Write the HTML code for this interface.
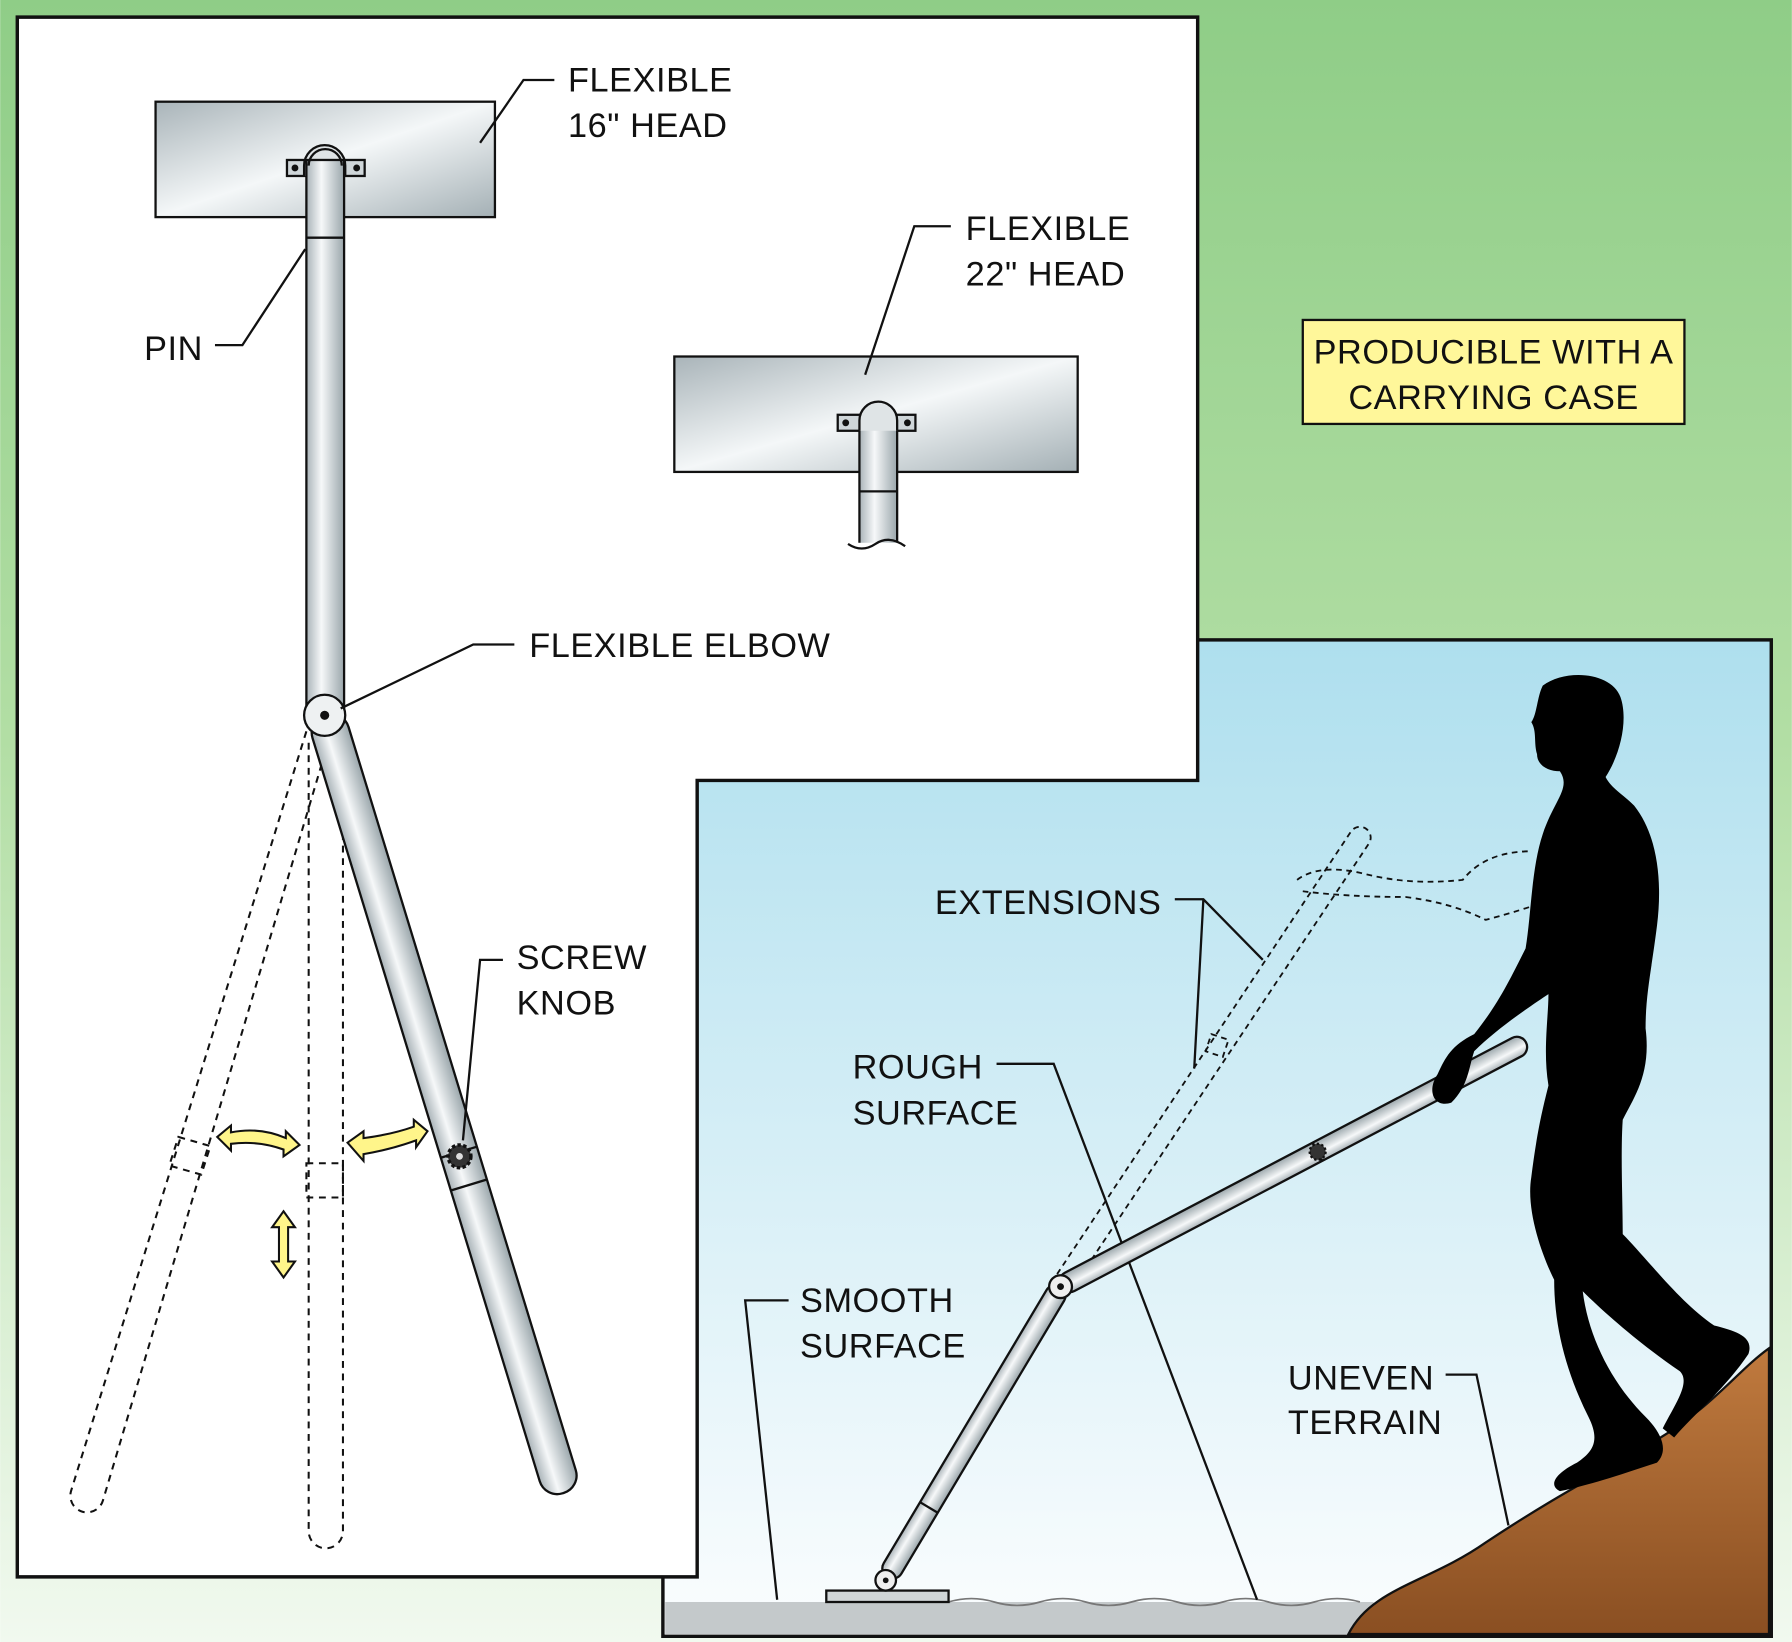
<!DOCTYPE html>
<html><head><meta charset="utf-8"><style>
html,body{margin:0;padding:0;width:1792px;height:1642px;overflow:hidden}
svg{display:block}
text{font-family:"Liberation Sans",sans-serif;font-size:30px;fill:#111;letter-spacing:0.5px}
</style></head><body>
<svg width="1792" height="1642" viewBox="0 0 1568 1437" xmlns="http://www.w3.org/2000/svg">
<defs>
<linearGradient id="bg" x1="0" y1="0" x2="0" y2="1"><stop offset="0" stop-color="#8fcd87"/><stop offset="0.45" stop-color="#b2dea4"/><stop offset="1" stop-color="#f1f9ef"/></linearGradient>
<linearGradient id="sky" x1="0" y1="0" x2="0" y2="1"><stop offset="0" stop-color="#aedfee"/><stop offset="1" stop-color="#fbfdfe"/></linearGradient>
<linearGradient id="metal" x1="0" y1="0" x2="1" y2="1"><stop offset="0" stop-color="#a9b4b9"/><stop offset="0.5" stop-color="#f4f7f8"/><stop offset="1" stop-color="#a4b0b5"/></linearGradient>
<linearGradient id="pipeV" x1="0" y1="0" x2="1" y2="0"><stop offset="0" stop-color="#a9b3b8"/><stop offset="0.4" stop-color="#f6f8f9"/><stop offset="1" stop-color="#9aa6ab"/></linearGradient>
<linearGradient id="dirt" x1="0" y1="0" x2="0" y2="1"><stop offset="0" stop-color="#c07a3e"/><stop offset="1" stop-color="#8a4f22"/></linearGradient>
</defs>
<rect width="1568" height="1437" fill="url(#bg)"/>
<rect x="580" y="560" width="970" height="872" fill="url(#sky)" stroke="#111" stroke-width="3"/>
<rect x="582" y="1402" width="620" height="28" fill="#c4c9cb"/>
<path d="M830 1402 q20 -6 40 0 t40 0 t40 0 t40 0 t40 0 t40 0 t40 0 t40 0 t40 0" fill="none" stroke="#777" stroke-width="1.5"/>
<path d="M1180 1430 C1200 1390 1250 1385 1300 1350 C1360 1310 1400 1290 1450 1260 C1500 1230 1520 1200 1548 1180 L1548 1430 Z" fill="url(#dirt)" stroke="#111" stroke-width="2"/>
<path d="M15 15 H1048 V683 H610 V1380 H15 Z" fill="#fff" stroke="#111" stroke-width="3"/>
<rect x="136" y="89" width="297" height="101" fill="url(#metal)" stroke="#111" stroke-width="2"/>
<rect x="251" y="140" width="68" height="14" fill="#cfd6d9" stroke="#111" stroke-width="2"/>
<circle cx="258" cy="147" r="3" fill="#111"/><circle cx="312" cy="147" r="3" fill="#111"/>
<path d="M266 154 V145 a18 18 0 0 1 36 0 V154" fill="#dfe4e6" stroke="#111" stroke-width="2"/>
<rect x="268" y="140" width="33" height="485" fill="url(#pipeV)" stroke="#111" stroke-width="2"/>
<line x1="268" y1="208" x2="301" y2="208" stroke="#111" stroke-width="2"/>
<path d="M270 145 a14 14 0 0 1 29 0" fill="none" stroke="#111" stroke-width="2"/>
<g fill="none" stroke="#111" stroke-width="1.8" stroke-dasharray="6 5">
<path d="M268 640 L62 1305 a14 14 0 0 0 28 8 L284 660"/>
<path d="M270 650 V1340 a15 15 0 0 0 30 0 V650"/>
<path d="M156 995 l28 8 l-8 25 l-28 -8 z M268 1018 h32 v30 h-32 z"/>
</g>
<g transform="translate(284,626) rotate(-17.0)">
<rect x="-16" y="0" width="33" height="712" rx="16" fill="url(#pipeV)" stroke="#111" stroke-width="2"/>
<line x1="-16" y1="400" x2="17" y2="400" stroke="#111" stroke-width="2"/>
<line x1="-16" y1="430" x2="17" y2="430" stroke="#111" stroke-width="2"/>
</g>
<circle cx="402" cy="1012" r="10" fill="#333" stroke="#111" stroke-width="3" stroke-dasharray="3 2"/>
<circle cx="402" cy="1012" r="3" fill="#ddd"/>
<circle cx="284" cy="626" r="18" fill="#eef1f2" stroke="#111" stroke-width="2"/>
<circle cx="284" cy="626" r="4" fill="#111"/>
<g fill="#fff58a" stroke="#111" stroke-width="1.8">
<path d="M190 995 l12 -10 v6 q25 -5 48 5 v-6 l12 12 l-14 10 v-6 q-22 -8 -46 -5 v6 z"/>
<path d="M304 1000 l14 -10 v6 q24 -3 44 -10 v-6 l12 10 l-10 14 v-6 q-22 8 -46 12 v6 z"/>
<path d="M248 1060 l10 14 h-6 v30 h6 l-10 14 l-10 -14 h6 v-30 h-6 z"/>
</g>
<rect x="590" y="312" width="353" height="101" fill="url(#metal)" stroke="#111" stroke-width="2"/>
<rect x="733" y="363" width="68" height="14" fill="#cfd6d9" stroke="#111" stroke-width="2"/>
<circle cx="740" cy="370" r="3" fill="#111"/><circle cx="794" cy="370" r="3" fill="#111"/>
<rect x="752" y="365" width="33" height="110" fill="url(#pipeV)" stroke="none"/>
<path d="M752 377 V368 a16 16 0 0 1 33 0 V377" fill="#dfe4e6" stroke="#111" stroke-width="2"/>
<path d="M752 377 V475 M785 377 V475 M752 430 H785 M742 476 q12 8 24 0 t26 2" fill="none" stroke="#111" stroke-width="2"/>
<g fill="none" stroke="#111" stroke-width="2">
<path d="M420 125 L458 70 H485"/>
<path d="M757 328 L800 198 H832"/>
<path d="M188 302 H212 L267 218"/>
<path d="M298 620 L414 564 H450"/>
<path d="M405 998 L420 840 H440"/>
<path d="M1028 787 H1053 L1105 840 M1053 787 L1045 935"/>
<path d="M872 931 H922 L1100 1400"/>
<path d="M690 1138 H652 L680 1400"/>
<path d="M1265 1203 H1292 L1320 1335"/>
</g>
<text x="497" y="80">FLEXIBLE</text><text x="497" y="120">16" HEAD</text>
<text x="845" y="210">FLEXIBLE</text><text x="845" y="250">22" HEAD</text>
<text x="126" y="315">PIN</text>
<text x="463" y="575">FLEXIBLE ELBOW</text>
<text x="452" y="848">SCREW</text><text x="452" y="888">KNOB</text>
<text x="818" y="800">EXTENSIONS</text>
<text x="746" y="944">ROUGH</text><text x="746" y="984">SURFACE</text>
<text x="700" y="1148">SMOOTH</text><text x="700" y="1188">SURFACE</text>
<text x="1127" y="1216">UNEVEN</text><text x="1127" y="1255">TERRAIN</text>
<rect x="1140" y="280" width="334" height="91" fill="#fff79a" stroke="#111" stroke-width="2"/>
<text x="1307" y="318" text-anchor="middle">PRODUCIBLE WITH A</text>
<text x="1307" y="358" text-anchor="middle">CARRYING CASE</text>
<g fill="none" stroke="#111" stroke-width="1.6" stroke-dasharray="5 4">
<path d="M925 1115 L1182 728 a9 9 0 0 1 16 10 L940 1125"/>
<path d="M1135 770 q20 -15 60 -5 q40 10 85 5 q20 -25 60 -25 M1140 780 q40 5 90 5 q40 5 70 20 q20 -5 50 -15"/>
<path d="M1060 905 l15 5 l-5 15 l-15 -5z"/>
</g>
<rect x="723" y="1392" width="107" height="10" fill="#d0d5d7" stroke="#111" stroke-width="2"/>
<g transform="translate(928,1126) rotate(30.8)">
<rect x="-9" y="0" width="18" height="296" rx="9" fill="url(#pipeV)" stroke="#111" stroke-width="2"/>
<line x1="-9" y1="225" x2="9" y2="225" stroke="#111" stroke-width="2"/>
</g>
<circle cx="775" cy="1383" r="9" fill="#eee" stroke="#111" stroke-width="2"/><circle cx="775" cy="1383" r="2.5" fill="#111"/>
<g transform="translate(928,1126) rotate(-117.7)">
<rect x="-9" y="0" width="18" height="460" rx="9" fill="url(#pipeV)" stroke="#111" stroke-width="2"/>
<line x1="-9" y1="254" x2="9" y2="254" stroke="#111" stroke-width="2"/>
</g>
<circle cx="1153" cy="1008" r="7" fill="#333" stroke="#111" stroke-width="2" stroke-dasharray="2 2"/>
<circle cx="928" cy="1126" r="10" fill="#eee" stroke="#111" stroke-width="2"/><circle cx="928" cy="1126" r="3" fill="#111"/>
<path fill="#000" d="M1350 600 C1370 585 1410 588 1418 610 C1425 630 1418 660 1405 680 C1410 690 1420 695 1430 705 C1450 730 1455 770 1450 810 C1445 850 1440 870 1440 900 C1445 940 1430 960 1420 980 C1418 1010 1420 1050 1420 1080 C1440 1100 1470 1140 1500 1160 C1520 1165 1535 1170 1530 1185 C1510 1215 1480 1240 1465 1258 L1455 1250 C1465 1230 1480 1210 1470 1200 C1440 1180 1405 1150 1385 1130 C1390 1170 1410 1210 1440 1240 C1455 1255 1460 1270 1450 1280 C1420 1290 1390 1300 1365 1305 C1355 1300 1360 1290 1380 1280 C1395 1270 1400 1260 1390 1240 C1370 1200 1360 1160 1360 1120 C1350 1100 1335 1060 1340 1030 C1345 990 1350 970 1355 950 C1350 920 1355 890 1355 870 C1340 880 1310 900 1290 920 C1285 935 1285 950 1270 965 C1255 970 1248 955 1258 940 C1265 925 1270 915 1290 905 C1310 880 1320 860 1335 830 C1340 800 1340 760 1350 730 C1360 700 1375 690 1365 675 C1355 675 1345 670 1345 660 C1342 650 1345 640 1340 632 C1345 625 1345 610 1350 600 Z"/>
</svg>
</body></html>
